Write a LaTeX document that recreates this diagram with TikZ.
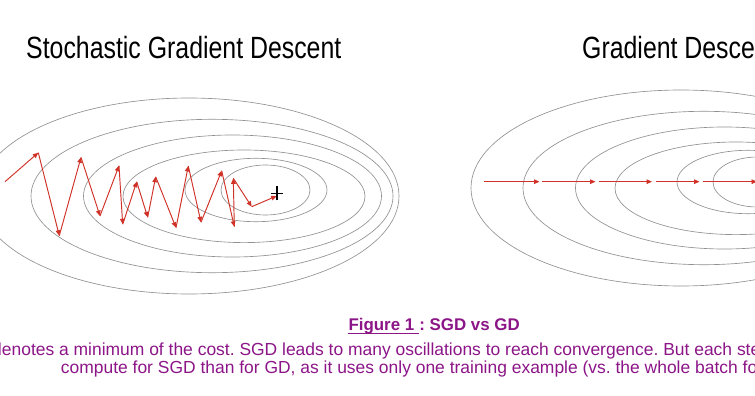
\documentclass[tikz,border=0pt]{standalone}
\usepackage{fontspec}
\setmainfont{Liberation Sans}
\newfontfamily\titlefont[FakeStretch=0.81]{Liberation Sans}
\usetikzlibrary{arrows.meta}
\definecolor{capcol}{RGB}{140,22,136}
\definecolor{pathred}{RGB}{208,50,40}
\definecolor{contour}{RGB}{145,145,145}
\frenchspacing
\tikzset{
  contourline/.style={draw=contour, line width=0.65pt},
  gradarrow/.style={draw=pathred, line width=0.95pt, -{Triangle[length=5.5pt,width=4.6pt]}},
  titletext/.style={anchor=base west, inner sep=0pt, font=\titlefont\fontsize{30.7}{34}\selectfont},
  captext/.style={anchor=base west, inner sep=0pt, text=capcol, font=\frenchspacing\fontsize{17.45}{19}\selectfont},
  capbold/.style={anchor=base west, inner sep=0pt, text=capcol, font=\bfseries\fontsize{16.9}{19}\selectfont},
}
\begin{document}
\begin{tikzpicture}[x=1pt,y=-1pt]
\useasboundingbox (0,0) rectangle (755,396);
\fill[white] (0,0) rectangle (755,396);
\clip (0,0) rectangle (755,396);
% titles
\node[titletext] (t1) at (26,58.3) {Stochastic Gradient Descent};
\node[titletext] (t2) at (582,58.3) {Gradient Descent};
% contours, both panels
\foreach \dx/\dy in {0/0, 492/-8}{
  \begin{scope}[shift={(\dx,\dy)}]
    \draw[contourline] (189,196) ellipse [x radius=210pt, y radius=98pt];
    \draw[contourline] (212,196) ellipse [x radius=181pt, y radius=76.7pt];
    \draw[contourline] (232.5,196) ellipse [x radius=149pt, y radius=61pt];
    \draw[contourline] (244,196.3) ellipse [x radius=121pt, y radius=46.3pt];
    \draw[contourline] (256,190) ellipse [x radius=71pt, y radius=31.7pt];
    \draw[contourline] (265.5,190) ellipse [x radius=44.5pt, y radius=25pt];
  \end{scope}
}
% SGD path
\coordinate (p0) at (5,181.7);
\coordinate (p1) at (38.3,152.7);
\coordinate (p2) at (59.3,235.7);
\coordinate (p3) at (81,157.3);
\coordinate (p4) at (100,216);
\coordinate (p5) at (119,165.7);
\coordinate (p6) at (122.7,224.3);
\coordinate (p7) at (136.7,181.7);
\coordinate (p8) at (147.7,217.3);
\coordinate (p9) at (155.7,176.7);
\coordinate (p10) at (176,227.7);
\coordinate (p11) at (188.3,166);
\coordinate (p12) at (201,222.3);
\coordinate (p13) at (221.7,170.7);
\coordinate (p14) at (234.3,226.7);
\coordinate (p15) at (233.3,178.3);
\coordinate (p16) at (251.7,206.7);
\coordinate (p17) at (276.7,196);
\foreach \a/\b in {0/1,1/2,2/3,3/4,4/5,5/6,6/7,7/8,8/9,9/10,10/11,11/12,12/13,13/14,14/15,15/16,16/17}{
  \draw[gradarrow] (p\a) -- (p\b);
}
% minimum marker
\coordinate (m) at (277,193.3);
\draw[line width=1.4pt] ([xshift=-6pt]m) -- ([xshift=6pt]m);
\draw[line width=1.4pt] ([yshift=-7pt]m) -- ([yshift=7pt]m);
% GD path
\coordinate (g0) at (484,181.7);
\coordinate (g1) at (539.5,181.7);
\coordinate (g1s) at (542.3,181.7);
\coordinate (g2) at (595.5,181.7);
\coordinate (g2s) at (599,181.7);
\coordinate (g3) at (652,181.7);
\coordinate (g3s) at (656,181.7);
\coordinate (g4) at (699.5,181.7);
\coordinate (g4s) at (702.7,181.7);
\coordinate (g5) at (757,181.7);
\draw[gradarrow] (g0) -- (g1);
\draw[gradarrow] (g1s) -- (g2);
\draw[gradarrow] (g2s) -- (g3);
\draw[gradarrow] (g3s) -- (g4);
\draw[gradarrow] (g4s) -- (g5);
% caption
\node[capbold] (figlbl) at (348.3,330.7) {Figure 1\ \null};
\node[capbold] (caprest) at (figlbl.base east) {: SGD vs GD};
\draw[capcol, line width=1.3pt] ([yshift=-2.6pt]figlbl.base west) -- ([yshift=-2.6pt]figlbl.base east);
\node[captext] (l2) at (-8,355) {denotes a minimum of the cost. SGD leads to many oscillations to reach convergence. But each step is a lot faster to};
\node[captext] (l3) at (60.7,373.3) {compute for SGD than for GD, as it uses only one training example (vs. the whole batch for GD).};
\end{tikzpicture}
\end{document}
